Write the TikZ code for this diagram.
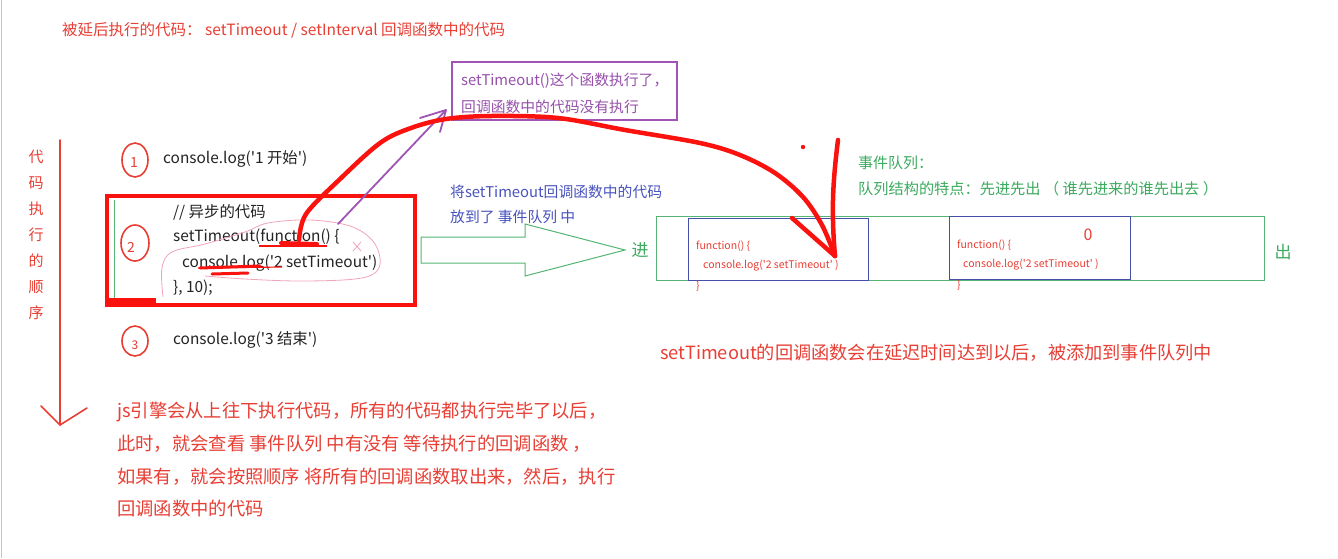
\documentclass[tikz,border=0pt]{standalone}
\usepackage{fontspec}
\newfontfamily\cjk{Noto Sans CJK SC}
\usetikzlibrary{arrows.meta}
\definecolor{tred}{RGB}{232,62,52}
\definecolor{hred}{RGB}{250,18,14}
\definecolor{tpur}{RGB}{150,80,170}
\definecolor{bpur}{RGB}{160,85,180}
\definecolor{tblue}{RGB}{72,82,190}
\definecolor{tgreen}{RGB}{60,170,95}
\definecolor{qgreen}{RGB}{85,180,115}
\definecolor{qblue}{RGB}{70,80,170}
\definecolor{tblack}{RGB}{35,35,35}
\definecolor{tpink}{RGB}{240,165,185}
\newcommand\fsz[1]{\fontsize{#1}{#1}\selectfont}
\begin{document}
\begin{tikzpicture}[x=1pt,y=-1pt,
  txt/.style={inner sep=0pt, anchor=west, font=\cjk\fsz{14}},
  code/.style={txt, text=tblack, font=\cjk\fsz{15.4}},
  qcode/.style={txt, text=tred, font=\cjk\fsz{10.5}},
  note/.style={txt, text=tred, font=\cjk\fsz{18.3}},
  hand/.style={draw=hred, line width=4.5pt, line cap=round, line join=round},
]
\useasboundingbox (0,0) rectangle (1338,558);
\fill[white] (0,0) rectangle (1338,558);
\draw[gray!45, line width=1pt] (1,0) -- (1,558);

% title
\node[txt, text=tred, font=\cjk\fsz{15.5}] (title) at (62,30) {被延后执行的代码： setTimeout / setInterval 回调函数中的代码};

% vertical order label and arrow
\foreach \c [count=\i] in {代,码,执,行,的,顺,序}
  \node[txt, anchor=center, text=tred, font=\cjk\fsz{15}] (v\i) at (36,{157+26*(\i-1)}) {\c};
\coordinate (otop) at (60,140);
\coordinate (otip) at (60,425);
\coordinate (oarmL) at (41,406);
\coordinate (oarmR) at (87,408);
\draw[tred, line width=1.6pt, line cap=round] (otop) -- (otip);
\draw[tred, line width=1.6pt, line cap=round, line join=round] (oarmL) -- (otip) -- (oarmR);

% step 1
\draw[tred, line width=1.6pt] (135,160) ellipse [x radius=13, y radius=17];
\node[txt, anchor=center, text=tred, font=\cjk\fsz{14}] (n1) at (134,163) {1};
\node[code] (c1) at (163,159) {console.log('1 开始')};

% step 2
\draw[hred, line width=4pt] (107,196) rectangle (415,305);
\draw[qgreen, line width=1pt] (114,200) -- (114,298);
\draw[hred, line width=7pt] (107,301) -- (156,301);
\draw[tred, line width=1.6pt] (135,243) ellipse [x radius=14, y radius=18];
\node[txt, anchor=center, text=tred, font=\cjk\fsz{14}] (n2) at (131,247) {2};
\node[code] (c2a) at (173,212) {// 异步的代码};
\node[code] (c2b) at (173,237) {setTimeout(function() \{};
\node[code] (c2c) at (182,263) {console.log('2 setTimeout')};
\node[code] (c2d) at (173,288) {\}, 10);};

% pink annotation loop and cross
\draw[tpink, line width=0.8pt] plot[smooth, tension=0.6] coordinates {(163,297) (162,268) (172,252) (205,244) (245,232) (268,223) (310,220) (350,226) (372,240) (380,258) (376,272) (355,279) (300,281) (245,279) (205,276)};
\draw[tpink, line width=0.8pt] (353,242) -- (361,251) (361,242) -- (353,251);

% red underlines
\draw[hred, line width=1.2pt] (259,246) -- (327,246);
\draw[hred, line width=4pt, line cap=round] (281,243) -- (317,244);
\draw[hred, line width=1.2pt] (198,268) -- (282,267);
\draw[hred, line width=3pt, line cap=round] (200,268) -- (260,266);
\draw[hred, line width=3pt, line cap=round] (212,274) -- (248,273);

% step 3
\draw[tred, line width=1.6pt] (135,341) ellipse [x radius=13, y radius=15];
\node[txt, anchor=center, text=tred, font=\cjk\fsz{12}] (n3) at (135,345) {3};
\node[code] (c3) at (173,340) {console.log('3 结束')};

% purple box
\draw[bpur, line width=2pt] (452,62) rectangle (677,120);
\node[txt, text=tpur, font=\cjk\fsz{14.8}] (p1) at (461,81) {setTimeout()这个函数执行了，};
\node[txt, text=tpur, font=\cjk\fsz{14.8}] (p2) at (461,107) {回调函数中的代码没有执行};
\coordinate (pstart) at (338,224);
\coordinate (ptip) at (446,110);
\draw[bpur, line width=1.8pt, line cap=round] (pstart) -- (ptip);
\draw[bpur, line width=1.8pt, line cap=round, line join=round] (420,118) -- (ptip) -- (440,132);

% blue text
\node[txt, text=tblue, font=\cjk\fsz{14.8}] (b1) at (450,192) {将setTimeout回调函数中的代码};
\node[txt, text=tblue, font=\cjk\fsz{14.8}] (b2) at (450,217) {放到了 事件队列 中};

% green hollow arrow
\draw[qgreen, line width=1pt, line join=miter] (421,237) -- (525,237) -- (525,224) -- (625,250) -- (525,276) -- (525,263) -- (421,263) -- cycle;
\node[txt, anchor=center, text=tgreen, font=\cjk\fsz{17}] (jin) at (640,250) {进};

% queue
\draw[qgreen, line width=1pt] (656,216) rectangle (1264,280);
\node[txt, anchor=center, text=tgreen, font=\cjk\fsz{17}] (chu) at (1283,252) {出};
\draw[qblue, line width=1pt] (688,218) rectangle (868,280);
\draw[qblue, line width=1pt] (949,216) rectangle (1130,279);
\node[qcode] (q1a) at (696,246) {function() \{};
\node[qcode] (q1b) at (703,266) {console.log('2 setTimeout' )};
\node[qcode] (q1c) at (696,286) {\}};
\node[qcode] (q2a) at (957,245) {function() \{};
\node[qcode] (q2b) at (963,265) {console.log('2 setTimeout' )};
\node[qcode] (q2c) at (957,285) {\}};
\node[txt, anchor=center, text=tred, font=\cjk\fsz{16}] (zero) at (1088,235) {0};

% green notes
\node[txt, text=tgreen, font=\cjk\fsz{15}] (g1) at (858,163) {事件队列：};
\node[txt, text=tgreen, font=\cjk\fsz{15.2}] (g2) at (858,189) {队列结构的特点：先进先出 （ 谁先进来的谁先出去 ）};

% red handwritten curve
\coordinate (hstart) at (299,240);
\coordinate (htip) at (835,256);
\draw[hand] plot[smooth, tension=0.55] coordinates {(hstart) (306,214) (339,180) (380,143) (411,128) (446,119) (491,116) (558,118) (625,130) (700,143) (740,155) (775,173) (803,197) (822,225) (htip)};
\draw[hand] (792,218) -- (htip);
\draw[hand] (htip) .. controls (831,210) and (833,180) .. (838,140);
\fill[hred] (803,147) circle (2.2);

% red notes
\node[txt, text=tred, font=\cjk\fsz{18.2}] (r0) at (660,353) {setTimeout的回调函数会在延迟时间达到以后，被添加到事件队列中};
\node[note] (r1) at (117,412) {js引擎会从上往下执行代码，所有的代码都执行完毕了以后，};
\node[note] (r2) at (117,444) {此时，就会查看 事件队列 中有没有 等待执行的回调函数 ，};
\node[note] (r3) at (117,477) {如果有，就会按照顺序 将所有的回调函数取出来，然后，执行};
\node[note] (r4) at (117,509) {回调函数中的代码};
\end{tikzpicture}
\end{document}
